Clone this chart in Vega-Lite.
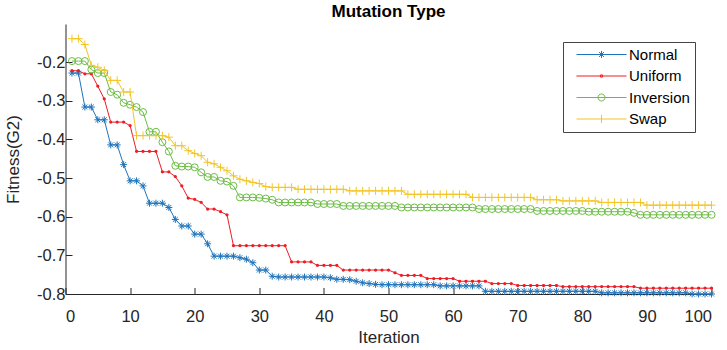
{
"$schema": "https://vega.github.io/schema/vega-lite/v6.json",
"width": 646,
"height": 270,
"autosize": "none",
"padding": {"left": 65.5, "top": 24, "right": 15.5, "bottom": 56},
"background": "white",
"title": {"text": "Mutation Type", "fontSize": 17, "fontWeight": "bold", "font": "Liberation Sans", "color": "#000000", "offset": 3.5, "anchor": "middle"},
"config": {
  "view": {"stroke": null},
  "axis": {"grid": false, "domainColor": "#262626", "tickColor": "#262626", "labelColor": "#262626", "titleColor": "#262626", "labelFont": "Liberation Sans", "labelFontSize": 16.5, "titleFont": "Liberation Sans", "titleFontSize": 17, "titleFontWeight": "normal", "tickSize": -6.5, "domainWidth": 1, "tickWidth": 1},
  "legend": {"orient": "none", "legendX": 497.5, "legendY": 18, "symbolSize": 49, "symbolStrokeWidth": 1, "symbolOffset": 26, "labelOffset": 20, "padding": 5, "rowPadding": 5.5, "labelFontSize": 15, "labelFont": "Liberation Sans", "labelColor": "#000000", "strokeColor": "#444444", "fillColor": "white", "symbolOpacity": 1}
},
"data": {"values": [
{"series":"Normal","iteration":1,"fitness":-0.228},{"series":"Normal","iteration":2,"fitness":-0.228},{"series":"Normal","iteration":3,"fitness":-0.316},{"series":"Normal","iteration":4,"fitness":-0.316},{"series":"Normal","iteration":5,"fitness":-0.349},{"series":"Normal","iteration":6,"fitness":-0.349},{"series":"Normal","iteration":7,"fitness":-0.414},{"series":"Normal","iteration":8,"fitness":-0.414},{"series":"Normal","iteration":9,"fitness":-0.465},{"series":"Normal","iteration":10,"fitness":-0.507},
{"series":"Normal","iteration":11,"fitness":-0.507},{"series":"Normal","iteration":12,"fitness":-0.52},{"series":"Normal","iteration":13,"fitness":-0.565},{"series":"Normal","iteration":14,"fitness":-0.565},{"series":"Normal","iteration":15,"fitness":-0.565},{"series":"Normal","iteration":16,"fitness":-0.576},{"series":"Normal","iteration":17,"fitness":-0.607},{"series":"Normal","iteration":18,"fitness":-0.624},{"series":"Normal","iteration":19,"fitness":-0.624},{"series":"Normal","iteration":20,"fitness":-0.645},
{"series":"Normal","iteration":21,"fitness":-0.645},{"series":"Normal","iteration":22,"fitness":-0.67},{"series":"Normal","iteration":23,"fitness":-0.702},{"series":"Normal","iteration":24,"fitness":-0.702},{"series":"Normal","iteration":25,"fitness":-0.702},{"series":"Normal","iteration":26,"fitness":-0.702},{"series":"Normal","iteration":27,"fitness":-0.706},{"series":"Normal","iteration":28,"fitness":-0.71},{"series":"Normal","iteration":29,"fitness":-0.719},{"series":"Normal","iteration":30,"fitness":-0.738},
{"series":"Normal","iteration":31,"fitness":-0.738},{"series":"Normal","iteration":32,"fitness":-0.754},{"series":"Normal","iteration":33,"fitness":-0.756},{"series":"Normal","iteration":34,"fitness":-0.756},{"series":"Normal","iteration":35,"fitness":-0.756},{"series":"Normal","iteration":36,"fitness":-0.756},{"series":"Normal","iteration":37,"fitness":-0.756},{"series":"Normal","iteration":38,"fitness":-0.756},{"series":"Normal","iteration":39,"fitness":-0.756},{"series":"Normal","iteration":40,"fitness":-0.756},
{"series":"Normal","iteration":41,"fitness":-0.758},{"series":"Normal","iteration":42,"fitness":-0.762},{"series":"Normal","iteration":43,"fitness":-0.762},{"series":"Normal","iteration":44,"fitness":-0.763},{"series":"Normal","iteration":45,"fitness":-0.767},{"series":"Normal","iteration":46,"fitness":-0.771},{"series":"Normal","iteration":47,"fitness":-0.773},{"series":"Normal","iteration":48,"fitness":-0.775},{"series":"Normal","iteration":49,"fitness":-0.776},{"series":"Normal","iteration":50,"fitness":-0.776},
{"series":"Normal","iteration":51,"fitness":-0.776},{"series":"Normal","iteration":52,"fitness":-0.776},{"series":"Normal","iteration":53,"fitness":-0.776},{"series":"Normal","iteration":54,"fitness":-0.776},{"series":"Normal","iteration":55,"fitness":-0.776},{"series":"Normal","iteration":56,"fitness":-0.776},{"series":"Normal","iteration":57,"fitness":-0.776},{"series":"Normal","iteration":58,"fitness":-0.779},{"series":"Normal","iteration":59,"fitness":-0.779},{"series":"Normal","iteration":60,"fitness":-0.779},
{"series":"Normal","iteration":61,"fitness":-0.779},{"series":"Normal","iteration":62,"fitness":-0.779},{"series":"Normal","iteration":63,"fitness":-0.779},{"series":"Normal","iteration":64,"fitness":-0.779},{"series":"Normal","iteration":65,"fitness":-0.793},{"series":"Normal","iteration":66,"fitness":-0.793},{"series":"Normal","iteration":67,"fitness":-0.793},{"series":"Normal","iteration":68,"fitness":-0.793},{"series":"Normal","iteration":69,"fitness":-0.793},{"series":"Normal","iteration":70,"fitness":-0.793},
{"series":"Normal","iteration":71,"fitness":-0.793},{"series":"Normal","iteration":72,"fitness":-0.793},{"series":"Normal","iteration":73,"fitness":-0.793},{"series":"Normal","iteration":74,"fitness":-0.793},{"series":"Normal","iteration":75,"fitness":-0.793},{"series":"Normal","iteration":76,"fitness":-0.793},{"series":"Normal","iteration":77,"fitness":-0.793},{"series":"Normal","iteration":78,"fitness":-0.793},{"series":"Normal","iteration":79,"fitness":-0.793},{"series":"Normal","iteration":80,"fitness":-0.793},
{"series":"Normal","iteration":81,"fitness":-0.793},{"series":"Normal","iteration":82,"fitness":-0.793},{"series":"Normal","iteration":83,"fitness":-0.797},{"series":"Normal","iteration":84,"fitness":-0.797},{"series":"Normal","iteration":85,"fitness":-0.797},{"series":"Normal","iteration":86,"fitness":-0.797},{"series":"Normal","iteration":87,"fitness":-0.797},{"series":"Normal","iteration":88,"fitness":-0.797},{"series":"Normal","iteration":89,"fitness":-0.797},{"series":"Normal","iteration":90,"fitness":-0.797},
{"series":"Normal","iteration":91,"fitness":-0.797},{"series":"Normal","iteration":92,"fitness":-0.797},{"series":"Normal","iteration":93,"fitness":-0.797},{"series":"Normal","iteration":94,"fitness":-0.797},{"series":"Normal","iteration":95,"fitness":-0.797},{"series":"Normal","iteration":96,"fitness":-0.797},{"series":"Normal","iteration":97,"fitness":-0.8},{"series":"Normal","iteration":98,"fitness":-0.8},{"series":"Normal","iteration":99,"fitness":-0.8},{"series":"Normal","iteration":100,"fitness":-0.8},
{"series":"Uniform","iteration":1,"fitness":-0.222},{"series":"Uniform","iteration":2,"fitness":-0.222},{"series":"Uniform","iteration":3,"fitness":-0.23},{"series":"Uniform","iteration":4,"fitness":-0.23},{"series":"Uniform","iteration":5,"fitness":-0.262},{"series":"Uniform","iteration":6,"fitness":-0.295},{"series":"Uniform","iteration":7,"fitness":-0.355},{"series":"Uniform","iteration":8,"fitness":-0.355},{"series":"Uniform","iteration":9,"fitness":-0.355},{"series":"Uniform","iteration":10,"fitness":-0.364},
{"series":"Uniform","iteration":11,"fitness":-0.431},{"series":"Uniform","iteration":12,"fitness":-0.431},{"series":"Uniform","iteration":13,"fitness":-0.431},{"series":"Uniform","iteration":14,"fitness":-0.431},{"series":"Uniform","iteration":15,"fitness":-0.484},{"series":"Uniform","iteration":16,"fitness":-0.484},{"series":"Uniform","iteration":17,"fitness":-0.496},{"series":"Uniform","iteration":18,"fitness":-0.52},{"series":"Uniform","iteration":19,"fitness":-0.552},{"series":"Uniform","iteration":20,"fitness":-0.555},
{"series":"Uniform","iteration":21,"fitness":-0.563},{"series":"Uniform","iteration":22,"fitness":-0.58},{"series":"Uniform","iteration":23,"fitness":-0.58},{"series":"Uniform","iteration":24,"fitness":-0.587},{"series":"Uniform","iteration":25,"fitness":-0.595},{"series":"Uniform","iteration":26,"fitness":-0.675},{"series":"Uniform","iteration":27,"fitness":-0.675},{"series":"Uniform","iteration":28,"fitness":-0.675},{"series":"Uniform","iteration":29,"fitness":-0.675},{"series":"Uniform","iteration":30,"fitness":-0.675},
{"series":"Uniform","iteration":31,"fitness":-0.675},{"series":"Uniform","iteration":32,"fitness":-0.675},{"series":"Uniform","iteration":33,"fitness":-0.675},{"series":"Uniform","iteration":34,"fitness":-0.675},{"series":"Uniform","iteration":35,"fitness":-0.717},{"series":"Uniform","iteration":36,"fitness":-0.717},{"series":"Uniform","iteration":37,"fitness":-0.717},{"series":"Uniform","iteration":38,"fitness":-0.717},{"series":"Uniform","iteration":39,"fitness":-0.726},{"series":"Uniform","iteration":40,"fitness":-0.726},
{"series":"Uniform","iteration":41,"fitness":-0.726},{"series":"Uniform","iteration":42,"fitness":-0.726},{"series":"Uniform","iteration":43,"fitness":-0.738},{"series":"Uniform","iteration":44,"fitness":-0.738},{"series":"Uniform","iteration":45,"fitness":-0.738},{"series":"Uniform","iteration":46,"fitness":-0.738},{"series":"Uniform","iteration":47,"fitness":-0.738},{"series":"Uniform","iteration":48,"fitness":-0.738},{"series":"Uniform","iteration":49,"fitness":-0.738},{"series":"Uniform","iteration":50,"fitness":-0.738},
{"series":"Uniform","iteration":51,"fitness":-0.745},{"series":"Uniform","iteration":52,"fitness":-0.752},{"series":"Uniform","iteration":53,"fitness":-0.752},{"series":"Uniform","iteration":54,"fitness":-0.752},{"series":"Uniform","iteration":55,"fitness":-0.752},{"series":"Uniform","iteration":56,"fitness":-0.76},{"series":"Uniform","iteration":57,"fitness":-0.76},{"series":"Uniform","iteration":58,"fitness":-0.76},{"series":"Uniform","iteration":59,"fitness":-0.76},{"series":"Uniform","iteration":60,"fitness":-0.76},
{"series":"Uniform","iteration":61,"fitness":-0.767},{"series":"Uniform","iteration":62,"fitness":-0.767},{"series":"Uniform","iteration":63,"fitness":-0.767},{"series":"Uniform","iteration":64,"fitness":-0.767},{"series":"Uniform","iteration":65,"fitness":-0.767},{"series":"Uniform","iteration":66,"fitness":-0.773},{"series":"Uniform","iteration":67,"fitness":-0.773},{"series":"Uniform","iteration":68,"fitness":-0.773},{"series":"Uniform","iteration":69,"fitness":-0.773},{"series":"Uniform","iteration":70,"fitness":-0.778},
{"series":"Uniform","iteration":71,"fitness":-0.778},{"series":"Uniform","iteration":72,"fitness":-0.778},{"series":"Uniform","iteration":73,"fitness":-0.778},{"series":"Uniform","iteration":74,"fitness":-0.778},{"series":"Uniform","iteration":75,"fitness":-0.778},{"series":"Uniform","iteration":76,"fitness":-0.778},{"series":"Uniform","iteration":77,"fitness":-0.781},{"series":"Uniform","iteration":78,"fitness":-0.781},{"series":"Uniform","iteration":79,"fitness":-0.781},{"series":"Uniform","iteration":80,"fitness":-0.781},
{"series":"Uniform","iteration":81,"fitness":-0.781},{"series":"Uniform","iteration":82,"fitness":-0.781},{"series":"Uniform","iteration":83,"fitness":-0.781},{"series":"Uniform","iteration":84,"fitness":-0.781},{"series":"Uniform","iteration":85,"fitness":-0.781},{"series":"Uniform","iteration":86,"fitness":-0.781},{"series":"Uniform","iteration":87,"fitness":-0.781},{"series":"Uniform","iteration":88,"fitness":-0.781},{"series":"Uniform","iteration":89,"fitness":-0.785},{"series":"Uniform","iteration":90,"fitness":-0.785},
{"series":"Uniform","iteration":91,"fitness":-0.785},{"series":"Uniform","iteration":92,"fitness":-0.785},{"series":"Uniform","iteration":93,"fitness":-0.785},{"series":"Uniform","iteration":94,"fitness":-0.785},{"series":"Uniform","iteration":95,"fitness":-0.785},{"series":"Uniform","iteration":96,"fitness":-0.785},{"series":"Uniform","iteration":97,"fitness":-0.785},{"series":"Uniform","iteration":98,"fitness":-0.785},{"series":"Uniform","iteration":99,"fitness":-0.785},{"series":"Uniform","iteration":100,"fitness":-0.785},
{"series":"Inversion","iteration":1,"fitness":-0.197},{"series":"Inversion","iteration":2,"fitness":-0.197},{"series":"Inversion","iteration":3,"fitness":-0.197},{"series":"Inversion","iteration":4,"fitness":-0.219},{"series":"Inversion","iteration":5,"fitness":-0.228},{"series":"Inversion","iteration":6,"fitness":-0.228},{"series":"Inversion","iteration":7,"fitness":-0.277},{"series":"Inversion","iteration":8,"fitness":-0.284},{"series":"Inversion","iteration":9,"fitness":-0.305},{"series":"Inversion","iteration":10,"fitness":-0.31},
{"series":"Inversion","iteration":11,"fitness":-0.316},{"series":"Inversion","iteration":12,"fitness":-0.329},{"series":"Inversion","iteration":13,"fitness":-0.38},{"series":"Inversion","iteration":14,"fitness":-0.38},{"series":"Inversion","iteration":15,"fitness":-0.407},{"series":"Inversion","iteration":16,"fitness":-0.431},{"series":"Inversion","iteration":17,"fitness":-0.468},{"series":"Inversion","iteration":18,"fitness":-0.47},{"series":"Inversion","iteration":19,"fitness":-0.47},{"series":"Inversion","iteration":20,"fitness":-0.472},
{"series":"Inversion","iteration":21,"fitness":-0.485},{"series":"Inversion","iteration":22,"fitness":-0.497},{"series":"Inversion","iteration":23,"fitness":-0.497},{"series":"Inversion","iteration":24,"fitness":-0.507},{"series":"Inversion","iteration":25,"fitness":-0.509},{"series":"Inversion","iteration":26,"fitness":-0.52},{"series":"Inversion","iteration":27,"fitness":-0.55},{"series":"Inversion","iteration":28,"fitness":-0.55},{"series":"Inversion","iteration":29,"fitness":-0.55},{"series":"Inversion","iteration":30,"fitness":-0.551},
{"series":"Inversion","iteration":31,"fitness":-0.553},{"series":"Inversion","iteration":32,"fitness":-0.556},{"series":"Inversion","iteration":33,"fitness":-0.563},{"series":"Inversion","iteration":34,"fitness":-0.563},{"series":"Inversion","iteration":35,"fitness":-0.563},{"series":"Inversion","iteration":36,"fitness":-0.563},{"series":"Inversion","iteration":37,"fitness":-0.563},{"series":"Inversion","iteration":38,"fitness":-0.563},{"series":"Inversion","iteration":39,"fitness":-0.567},{"series":"Inversion","iteration":40,"fitness":-0.567},
{"series":"Inversion","iteration":41,"fitness":-0.567},{"series":"Inversion","iteration":42,"fitness":-0.567},{"series":"Inversion","iteration":43,"fitness":-0.572},{"series":"Inversion","iteration":44,"fitness":-0.572},{"series":"Inversion","iteration":45,"fitness":-0.572},{"series":"Inversion","iteration":46,"fitness":-0.572},{"series":"Inversion","iteration":47,"fitness":-0.572},{"series":"Inversion","iteration":48,"fitness":-0.572},{"series":"Inversion","iteration":49,"fitness":-0.572},{"series":"Inversion","iteration":50,"fitness":-0.572},
{"series":"Inversion","iteration":51,"fitness":-0.572},{"series":"Inversion","iteration":52,"fitness":-0.576},{"series":"Inversion","iteration":53,"fitness":-0.576},{"series":"Inversion","iteration":54,"fitness":-0.576},{"series":"Inversion","iteration":55,"fitness":-0.576},{"series":"Inversion","iteration":56,"fitness":-0.576},{"series":"Inversion","iteration":57,"fitness":-0.576},{"series":"Inversion","iteration":58,"fitness":-0.576},{"series":"Inversion","iteration":59,"fitness":-0.576},{"series":"Inversion","iteration":60,"fitness":-0.576},
{"series":"Inversion","iteration":61,"fitness":-0.576},{"series":"Inversion","iteration":62,"fitness":-0.576},{"series":"Inversion","iteration":63,"fitness":-0.576},{"series":"Inversion","iteration":64,"fitness":-0.58},{"series":"Inversion","iteration":65,"fitness":-0.58},{"series":"Inversion","iteration":66,"fitness":-0.58},{"series":"Inversion","iteration":67,"fitness":-0.58},{"series":"Inversion","iteration":68,"fitness":-0.58},{"series":"Inversion","iteration":69,"fitness":-0.58},{"series":"Inversion","iteration":70,"fitness":-0.58},
{"series":"Inversion","iteration":71,"fitness":-0.58},{"series":"Inversion","iteration":72,"fitness":-0.58},{"series":"Inversion","iteration":73,"fitness":-0.585},{"series":"Inversion","iteration":74,"fitness":-0.585},{"series":"Inversion","iteration":75,"fitness":-0.585},{"series":"Inversion","iteration":76,"fitness":-0.585},{"series":"Inversion","iteration":77,"fitness":-0.585},{"series":"Inversion","iteration":78,"fitness":-0.585},{"series":"Inversion","iteration":79,"fitness":-0.585},{"series":"Inversion","iteration":80,"fitness":-0.585},
{"series":"Inversion","iteration":81,"fitness":-0.587},{"series":"Inversion","iteration":82,"fitness":-0.587},{"series":"Inversion","iteration":83,"fitness":-0.587},{"series":"Inversion","iteration":84,"fitness":-0.587},{"series":"Inversion","iteration":85,"fitness":-0.587},{"series":"Inversion","iteration":86,"fitness":-0.587},{"series":"Inversion","iteration":87,"fitness":-0.587},{"series":"Inversion","iteration":88,"fitness":-0.59},{"series":"Inversion","iteration":89,"fitness":-0.595},{"series":"Inversion","iteration":90,"fitness":-0.595},
{"series":"Inversion","iteration":91,"fitness":-0.595},{"series":"Inversion","iteration":92,"fitness":-0.595},{"series":"Inversion","iteration":93,"fitness":-0.595},{"series":"Inversion","iteration":94,"fitness":-0.595},{"series":"Inversion","iteration":95,"fitness":-0.595},{"series":"Inversion","iteration":96,"fitness":-0.595},{"series":"Inversion","iteration":97,"fitness":-0.595},{"series":"Inversion","iteration":98,"fitness":-0.595},{"series":"Inversion","iteration":99,"fitness":-0.595},{"series":"Inversion","iteration":100,"fitness":-0.595},
{"series":"Swap","iteration":1,"fitness":-0.139},{"series":"Swap","iteration":2,"fitness":-0.139},{"series":"Swap","iteration":3,"fitness":-0.154},{"series":"Swap","iteration":4,"fitness":-0.208},{"series":"Swap","iteration":5,"fitness":-0.213},{"series":"Swap","iteration":6,"fitness":-0.221},{"series":"Swap","iteration":7,"fitness":-0.247},{"series":"Swap","iteration":8,"fitness":-0.247},{"series":"Swap","iteration":9,"fitness":-0.277},{"series":"Swap","iteration":10,"fitness":-0.277},
{"series":"Swap","iteration":11,"fitness":-0.39},{"series":"Swap","iteration":12,"fitness":-0.39},{"series":"Swap","iteration":13,"fitness":-0.39},{"series":"Swap","iteration":14,"fitness":-0.39},{"series":"Swap","iteration":15,"fitness":-0.39},{"series":"Swap","iteration":16,"fitness":-0.394},{"series":"Swap","iteration":17,"fitness":-0.416},{"series":"Swap","iteration":18,"fitness":-0.416},{"series":"Swap","iteration":19,"fitness":-0.429},{"series":"Swap","iteration":20,"fitness":-0.436},
{"series":"Swap","iteration":21,"fitness":-0.442},{"series":"Swap","iteration":22,"fitness":-0.459},{"series":"Swap","iteration":23,"fitness":-0.463},{"series":"Swap","iteration":24,"fitness":-0.472},{"series":"Swap","iteration":25,"fitness":-0.481},{"series":"Swap","iteration":26,"fitness":-0.494},{"series":"Swap","iteration":27,"fitness":-0.503},{"series":"Swap","iteration":28,"fitness":-0.507},{"series":"Swap","iteration":29,"fitness":-0.511},{"series":"Swap","iteration":30,"fitness":-0.514},
{"series":"Swap","iteration":31,"fitness":-0.522},{"series":"Swap","iteration":32,"fitness":-0.524},{"series":"Swap","iteration":33,"fitness":-0.524},{"series":"Swap","iteration":34,"fitness":-0.524},{"series":"Swap","iteration":35,"fitness":-0.524},{"series":"Swap","iteration":36,"fitness":-0.529},{"series":"Swap","iteration":37,"fitness":-0.529},{"series":"Swap","iteration":38,"fitness":-0.529},{"series":"Swap","iteration":39,"fitness":-0.529},{"series":"Swap","iteration":40,"fitness":-0.529},
{"series":"Swap","iteration":41,"fitness":-0.529},{"series":"Swap","iteration":42,"fitness":-0.529},{"series":"Swap","iteration":43,"fitness":-0.529},{"series":"Swap","iteration":44,"fitness":-0.533},{"series":"Swap","iteration":45,"fitness":-0.533},{"series":"Swap","iteration":46,"fitness":-0.533},{"series":"Swap","iteration":47,"fitness":-0.533},{"series":"Swap","iteration":48,"fitness":-0.533},{"series":"Swap","iteration":49,"fitness":-0.533},{"series":"Swap","iteration":50,"fitness":-0.533},
{"series":"Swap","iteration":51,"fitness":-0.533},{"series":"Swap","iteration":52,"fitness":-0.533},{"series":"Swap","iteration":53,"fitness":-0.542},{"series":"Swap","iteration":54,"fitness":-0.542},{"series":"Swap","iteration":55,"fitness":-0.542},{"series":"Swap","iteration":56,"fitness":-0.542},{"series":"Swap","iteration":57,"fitness":-0.542},{"series":"Swap","iteration":58,"fitness":-0.542},{"series":"Swap","iteration":59,"fitness":-0.542},{"series":"Swap","iteration":60,"fitness":-0.542},
{"series":"Swap","iteration":61,"fitness":-0.542},{"series":"Swap","iteration":62,"fitness":-0.542},{"series":"Swap","iteration":63,"fitness":-0.55},{"series":"Swap","iteration":64,"fitness":-0.55},{"series":"Swap","iteration":65,"fitness":-0.55},{"series":"Swap","iteration":66,"fitness":-0.55},{"series":"Swap","iteration":67,"fitness":-0.55},{"series":"Swap","iteration":68,"fitness":-0.55},{"series":"Swap","iteration":69,"fitness":-0.55},{"series":"Swap","iteration":70,"fitness":-0.55},
{"series":"Swap","iteration":71,"fitness":-0.55},{"series":"Swap","iteration":72,"fitness":-0.55},{"series":"Swap","iteration":73,"fitness":-0.556},{"series":"Swap","iteration":74,"fitness":-0.556},{"series":"Swap","iteration":75,"fitness":-0.556},{"series":"Swap","iteration":76,"fitness":-0.556},{"series":"Swap","iteration":77,"fitness":-0.559},{"series":"Swap","iteration":78,"fitness":-0.559},{"series":"Swap","iteration":79,"fitness":-0.559},{"series":"Swap","iteration":80,"fitness":-0.559},
{"series":"Swap","iteration":81,"fitness":-0.559},{"series":"Swap","iteration":82,"fitness":-0.559},{"series":"Swap","iteration":83,"fitness":-0.563},{"series":"Swap","iteration":84,"fitness":-0.563},{"series":"Swap","iteration":85,"fitness":-0.563},{"series":"Swap","iteration":86,"fitness":-0.563},{"series":"Swap","iteration":87,"fitness":-0.563},{"series":"Swap","iteration":88,"fitness":-0.563},{"series":"Swap","iteration":89,"fitness":-0.563},{"series":"Swap","iteration":90,"fitness":-0.57},
{"series":"Swap","iteration":91,"fitness":-0.57},{"series":"Swap","iteration":92,"fitness":-0.57},{"series":"Swap","iteration":93,"fitness":-0.57},{"series":"Swap","iteration":94,"fitness":-0.57},{"series":"Swap","iteration":95,"fitness":-0.57},{"series":"Swap","iteration":96,"fitness":-0.57},{"series":"Swap","iteration":97,"fitness":-0.57},{"series":"Swap","iteration":98,"fitness":-0.57},{"series":"Swap","iteration":99,"fitness":-0.57},{"series":"Swap","iteration":100,"fitness":-0.57}
]},
"encoding": {
  "x": {"field": "iteration", "type": "quantitative", "scale": {"domain": [0, 100], "nice": false}, "axis": {"values": [0,10,20,30,40,50,60,70,80,90,100], "title": "Iteration", "labelPadding": 21, "titlePadding": 4}},
  "y": {"field": "fitness", "type": "quantitative", "scale": {"domain": [-0.8, -0.101], "nice": false, "zero": false}, "axis": {"values": [-0.8,-0.7,-0.6,-0.5,-0.4,-0.3,-0.2], "labelExpr": "'-' + format(abs(datum.value), '.1f')", "title": "Fitness(G2)", "labelPadding": 7, "titlePadding": 14}}
},
"layer": [
  {"transform": [{"filter": "datum.series === 'Normal'"}], "mark": {"type": "line", "strokeWidth": 1, "color": "#1f74bb", "point": {"shape": "M-1,0H1M0,-1V1M-0.7,-0.7L0.7,0.7M-0.7,0.7L0.7,-0.7", "size": 49, "filled": false, "strokeWidth": 1, "opacity": 1, "color": "#1f74bb"}}},
  {"transform": [{"filter": "datum.series === 'Uniform'"}], "mark": {"type": "line", "strokeWidth": 1, "color": "#ee1c24", "point": {"shape": "circle", "size": 3, "filled": false, "strokeWidth": 1.5, "opacity": 1, "color": "#ee1c24"}}},
  {"transform": [{"filter": "datum.series === 'Inversion'"}], "mark": {"type": "line", "strokeWidth": 1, "color": "#6cbd45", "point": {"shape": "circle", "size": 49, "filled": false, "strokeWidth": 1, "opacity": 1, "color": "#6cbd45"}}},
  {"transform": [{"filter": "datum.series === 'Swap'"}], "mark": {"type": "line", "strokeWidth": 1, "color": "#f2c526", "point": {"shape": "M-1.15,0H1.15M0,-1.15V1.15", "size": 49, "filled": false, "strokeWidth": 1, "opacity": 1, "color": "#f2c526"}}},
  {"mark": {"type": "point", "opacity": 0, "filled": false},
   "encoding": {
     "color": {"field": "series", "type": "nominal", "scale": {"domain": ["Normal","Uniform","Inversion","Swap"], "range": ["#1f74bb","#ee1c24","#6cbd45","#f2c526"]}, "legend": {"title": null}},
     "shape": {"field": "series", "type": "nominal", "scale": {"domain": ["Normal","Uniform","Inversion","Swap"], "range": ["M-7.15,0H7.15M-1,0H1M0,-1V1M-0.7,-0.7L0.7,0.7M-0.7,0.7L0.7,-0.7", "M-7.15,0H7.15M-0.3,-0.3H0.3V0.3H-0.3Z", "M-7.15,0H7.15M1,0A1,1,0,1,1,-1,0A1,1,0,1,1,1,0Z", "M-7.15,0H7.15M0,-1.15V1.15"]}, "legend": {"title": null}}
   }}
]
}
